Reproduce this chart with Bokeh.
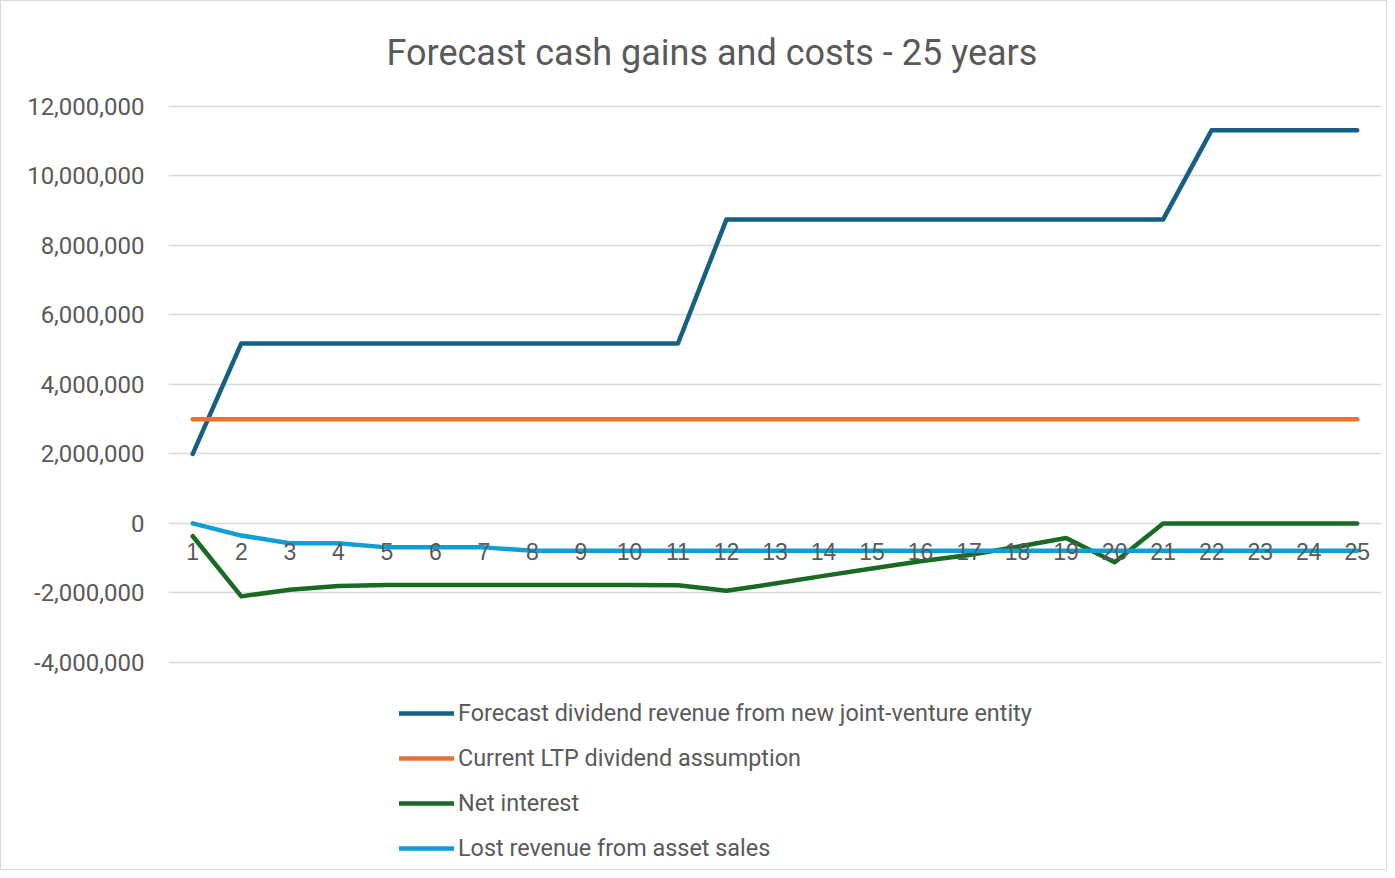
from bokeh.plotting import figure
from bokeh.models import (Legend, LegendItem, NumeralTickFormatter, FixedTicker,
                          Range1d, ColumnDataSource)
from bokeh.embed import file_html
from bokeh.resources import INLINE

# ---- data ----
years = list(range(1, 26))
dividend_jv = [2000000] + [5180000] * 10 + [8750000] * 10 + [11320000] * 4
ltp_dividend = [3000000] * 25
net_interest = [-370000, -2100000, -1910000, -1800000, -1770000, -1770000, -1770000,
                -1770000, -1770000, -1770000, -1780000, -1940000, -1730000, -1510000,
                -1300000, -1090000, -910000, -670000, -420000, -1120000,
                0, 0, 0, 0, 0]
lost_revenue = [0, -350000, -570000, -570000, -690000, -690000, -690000] + [-790000] * 18

series_names = ["Forecast dividend revenue from new joint-venture entity",
                "Current LTP dividend assumption",
                "Net interest",
                "Lost revenue from asset sales"]
series_values = [dividend_jv, ltp_dividend, net_interest, lost_revenue]
series_colors = ["#156082", "#E97132", "#196B24", "#0F9ED5"]
y_ticks = [-4000000, -2000000, 0, 2000000, 4000000, 6000000, 8000000, 10000000, 12000000]
title_text = "Forecast cash gains and costs - 25 years"

TEXT = "#595959"
FONT = "Roboto"

# frame spans from the top gridline down to the bottom of the canvas so that the
# legend (drawn inside the frame) sits below the -4,000,000 gridline
p = figure(width=1387, height=870, output_backend="svg", toolbar_location=None,
           x_range=Range1d(0.5, 25.5), y_range=Range1d(-10020000, 12058000),
           x_axis_location="above",
           min_border_left=167, min_border_right=7, min_border_top=103,
           min_border_bottom=0, outline_line_color=None)
p.styles = {"border": "1px solid #D9D9D9"}

p.title.text = title_text
p.title.text_font = FONT
p.title.text_font_size = "36px"
p.title.text_font_style = "normal"
p.title.text_color = TEXT
p.title.align = "left"
p.title.offset = 218
p.title.vertical_align = "top"
p.title.standoff = 57

# axes
p.yaxis.ticker = FixedTicker(ticks=y_ticks)
p.yaxis.formatter = NumeralTickFormatter(format="0,0")
p.yaxis.axis_line_color = None
p.yaxis.major_tick_line_color = None
p.yaxis.minor_tick_line_color = None
p.yaxis.major_label_standoff = 18
p.yaxis.major_label_text_font = FONT
p.yaxis.major_label_text_font_size = "24px"
p.yaxis.major_label_text_color = TEXT

p.xaxis.ticker = FixedTicker(ticks=years)
p.xaxis.fixed_location = 0
p.xaxis.axis_line_color = None
p.xaxis.major_tick_line_color = None
p.xaxis.minor_tick_line_color = None
p.xaxis.major_label_standoff = -43
p.xaxis.major_label_text_font = "Liberation Sans"
p.xaxis.major_label_text_font_size = "23px"
p.xaxis.major_label_text_color = TEXT

p.xgrid.visible = False
p.ygrid.ticker = FixedTicker(ticks=y_ticks)
p.ygrid.grid_line_color = "#D9D9D9"
p.ygrid.grid_line_width = 1.3

items = []
for name, vals, col in zip(series_names, series_values, series_colors):
    src = ColumnDataSource(dict(x=years, y=vals))
    r = p.line("x", "y", source=src, line_color=col, line_width=4.5,
               line_cap="round", line_join="round")
    items.append(LegendItem(label=name, renderers=[r]))

legend = Legend(items=items, location=(231, 9), orientation="vertical",
                glyph_width=55, glyph_height=28, label_standoff=4, spacing=17,
                padding=0, margin=0, border_line_color=None,
                background_fill_alpha=0, label_text_font=FONT,
                label_text_font_size="23.4px", label_text_color=TEXT,
                label_height=28)
p.add_layout(legend, "center")

open("out.html", "w").write(file_html(p, INLINE))
